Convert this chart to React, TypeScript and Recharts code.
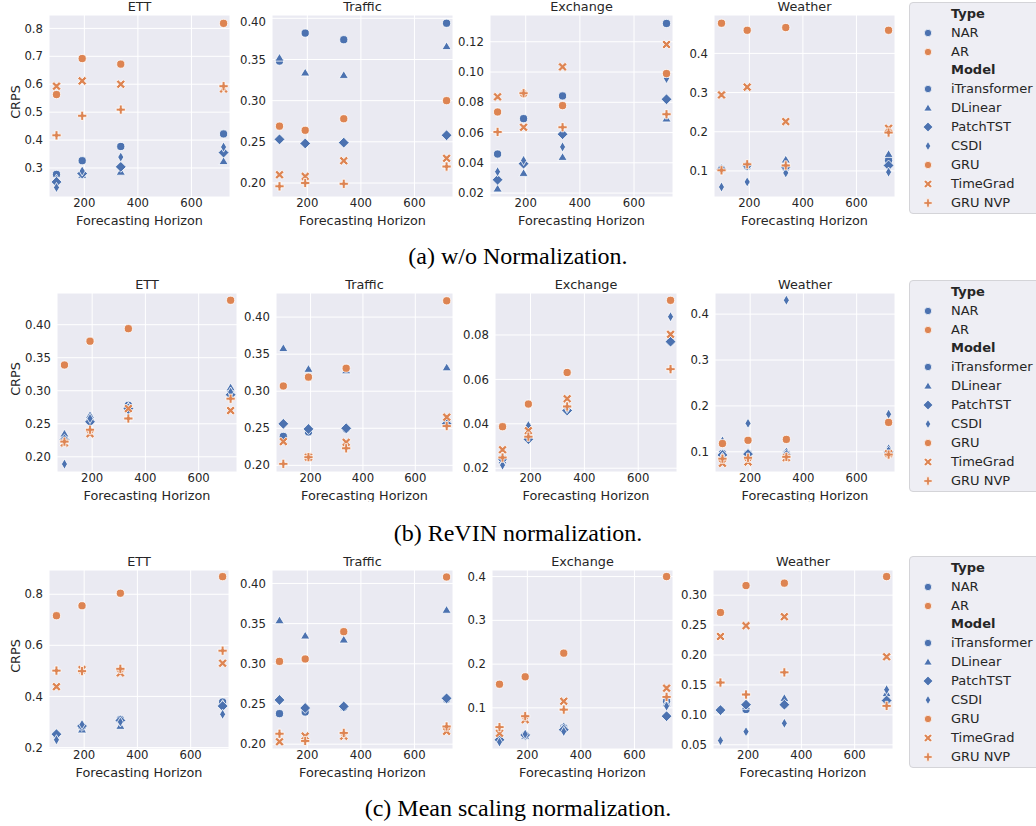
import React from 'react';
import { ScatterChart, Scatter, XAxis, YAxis, CartesianGrid } from 'recharts';

const horizons = [96, 192, 336, 720];
const models = ['iTransformer', 'DLinear', 'PatchTST', 'CSDI', 'GRU', 'TimeGrad', 'GRU NVP'];
const modelTypes = ['NAR', 'NAR', 'NAR', 'NAR', 'AR', 'AR', 'AR'];
const modelMarkers = ['circle', 'triangle', 'diamond', 'thin', 'circle', 'x', 'plus'];
const datasets = ['ETT', 'Traffic', 'Exchange', 'Weather'];
const xTicks = [200, 400, 600];

// CRPS per model (rows follow `models`) and horizon (columns follow `horizons`)
// (a) w/o normalization
const ettNone = [
  [0.277, 0.326, 0.377, 0.422],
  [0.262, 0.275, 0.286, 0.324],
  [0.25, 0.28, 0.304, 0.355],
  [0.23, 0.289, 0.339, 0.375],
  [0.563, 0.692, 0.672, 0.818],
  [0.593, 0.612, 0.6, 0.583],
  [0.417, 0.487, 0.509, 0.593],
];
const trafficNone = [
  [0.348, 0.382, 0.374, 0.394],
  [0.352, 0.334, 0.331, 0.366],
  [0.253, 0.248, 0.249, 0.258],
  null,
  [0.269, 0.264, 0.278, 0.3],
  [0.21, 0.208, 0.227, 0.23],
  [0.196, 0.2, 0.199, 0.22],
];
const exchangeNone = [
  [0.0458, 0.0692, 0.0842, 0.1321],
  [0.0229, 0.0332, 0.0438, 0.0692],
  [0.0288, 0.0394, 0.0589, 0.082],
  [0.0341, 0.0416, 0.0505, 0.0957],
  [0.0736, 0.0856, 0.0778, 0.099],
  [0.0836, 0.0635, 0.1034, 0.1182],
  [0.0604, 0.086, 0.0635, 0.0721],
];
const weatherNone = [
  [0.105, 0.112, 0.108, 0.127],
  [0.108, 0.119, 0.129, 0.143],
  [0.104, 0.114, 0.11, 0.114],
  [0.059, 0.072, 0.095, 0.097],
  [0.477, 0.459, 0.466, 0.459],
  [0.294, 0.314, 0.226, 0.209],
  [0.1017, 0.117, 0.114, 0.198],
];

// (b) ReVIN normalization
const ettRevin = [
  [0.228, 0.255, 0.278, 0.296],
  [0.235, 0.263, 0.276, 0.305],
  [0.226, 0.253, 0.273, 0.294],
  [0.189, 0.258, 0.27, 0.298],
  [0.339, 0.375, 0.394, 0.437],
  [0.221, 0.235, 0.273, 0.27],
  [0.223, 0.241, 0.258, 0.288],
];
const trafficRevin = [
  [0.239, 0.245, 0.249, 0.257],
  [0.358, 0.33, 0.328, 0.332],
  [0.256, 0.249, 0.25, 0.256],
  null,
  [0.307, 0.319, 0.331, 0.422],
  [0.232, 0.211, 0.231, 0.265],
  [0.202, 0.211, 0.223, 0.253],
];
const exchangeRevin = [
  [0.0245, 0.0335, 0.0462, 0.077],
  [0.0235, 0.034, 0.0465, 0.0775],
  [0.0241, 0.0331, 0.046, 0.077],
  [0.0214, 0.0392, 0.047, 0.0882],
  [0.0387, 0.0489, 0.0631, 0.0956],
  [0.0283, 0.0369, 0.0513, 0.0803],
  [0.0248, 0.0342, 0.0478, 0.0646],
];
const weatherRevin = [
  [0.096, 0.096, 0.096, 0.1],
  [0.125, 0.1, 0.101, 0.108],
  [0.093, 0.095, 0.093, 0.1],
  [0.088, 0.162, 0.4303, 0.182],
  [0.118, 0.125, 0.127, 0.164],
  [0.075, 0.078, 0.087, 0.096],
  [0.085, 0.087, 0.089, 0.094],
];

// (c) mean scaling normalization
const ettMean = [
  [0.25, 0.28, 0.31, 0.378],
  [0.258, 0.27, 0.284, 0.37],
  [0.252, 0.284, 0.306, 0.362],
  [0.23, 0.29, 0.3, 0.33],
  [0.716, 0.755, 0.804, 0.869],
  [0.438, 0.505, 0.492, 0.53],
  [0.501, 0.499, 0.508, 0.579],
];
const trafficMean = [
  [0.238, 0.24, 0.246, 0.256],
  [0.354, 0.335, 0.33, 0.367],
  [0.255, 0.245, 0.247, 0.257],
  null,
  [0.303, 0.306, 0.34, 0.408],
  [0.203, 0.21, 0.21, 0.216],
  [0.213, 0.204, 0.214, 0.222],
];
const exchangeMean = [
  [0.03, 0.038, 0.055, 0.115],
  [0.031, 0.036, 0.058, 0.11],
  [0.027, 0.038, 0.05, 0.081],
  [0.022, 0.04, 0.046, 0.104],
  [0.154, 0.171, 0.225, 0.4],
  [0.042, 0.073, 0.115, 0.145],
  [0.056, 0.081, 0.096, 0.125],
];
const weatherMean = [
  [0.108, 0.109, 0.117, 0.124],
  [0.108, 0.115, 0.128, 0.136],
  [0.108, 0.117, 0.117, 0.124],
  [0.057, 0.072, 0.086, 0.142],
  [0.271, 0.316, 0.32, 0.331],
  [0.231, 0.249, 0.264, 0.197],
  [0.154, 0.134, 0.171, 0.115],
];

// y tick labels
const ticksEttNone = [0.3, 0.4, 0.5, 0.6, 0.7, 0.8];
const ticksTrafficNone = [0.2, 0.25, 0.3, 0.35, 0.4];
const ticksExchangeNone = [0.02, 0.04, 0.06, 0.08, 0.1, 0.12];
const ticksWeatherNone = [0.1, 0.2, 0.3, 0.4];
const ticksEttRevin = [0.2, 0.25, 0.3, 0.35, 0.4];
const ticksTrafficRevin = [0.2, 0.25, 0.3, 0.35, 0.4];
const ticksExchangeRevin = [0.02, 0.04, 0.06, 0.08];
const ticksWeatherRevin = [0.1, 0.2, 0.3, 0.4];
const ticksEttMean = [0.2, 0.4, 0.6, 0.8];
const ticksTrafficMean = [0.2, 0.25, 0.3, 0.35, 0.4];
const ticksExchangeMean = [0.1, 0.2, 0.3, 0.4];
const ticksWeatherMean = [0.05, 0.1, 0.15, 0.2, 0.25, 0.3];

const BLUE = '#4C72B0';
const ORANGE = '#DD8452';
const TEXT = '#262626';
const SANS = '"DejaVu Sans", Verdana, sans-serif';
const TICK_FS = 11.7;
const LABEL_FS = 12.8;
const X_DOMAIN = [68, 744];
const Y_AXIS_W = 44;

const rows = [
  {
    caption: '(a) w/o Normalization.',
    top: 15, bottom: 197, legendTop: 2, captionY: 256,
    panels: [
      { data: ettNone, ticks: ticksEttNone, digits: 1, domain: [0.196, 0.848], left: 49, right: 230 },
      { data: trafficNone, ticks: ticksTrafficNone, digits: 2, domain: [0.183, 0.404], left: 272, right: 453 },
      { data: exchangeNone, ticks: ticksExchangeNone, digits: 2, domain: [0.0174, 0.1377], left: 490, right: 673 },
      { data: weatherNone, ticks: ticksWeatherNone, digits: 1, domain: [0.0335, 0.498], left: 714, right: 895 },
    ],
  },
  {
    caption: '(b) ReVIN normalization.',
    top: 293, bottom: 472, legendTop: 280, captionY: 533,
    panels: [
      { data: ettRevin, ticks: ticksEttRevin, digits: 2, domain: [0.177, 0.448], left: 57, right: 237 },
      { data: trafficRevin, ticks: ticksTrafficRevin, digits: 2, domain: [0.191, 0.4325], left: 276, right: 453 },
      { data: exchangeRevin, ticks: ticksExchangeRevin, digits: 2, domain: [0.0183, 0.0989], left: 495, right: 677 },
      { data: weatherRevin, ticks: ticksWeatherRevin, digits: 1, domain: [0.056, 0.446], left: 715, right: 895 },
    ],
  },
  {
    caption: '(c) Mean scaling normalization.',
    top: 570, bottom: 749, legendTop: 556, captionY: 808,
    panels: [
      { data: ettMean, ticks: ticksEttMean, digits: 1, domain: [0.194, 0.895], left: 49, right: 229 },
      { data: trafficMean, ticks: ticksTrafficMean, digits: 2, domain: [0.194, 0.4167], left: 272, right: 453 },
      { data: exchangeMean, ticks: ticksExchangeMean, digits: 1, domain: [0.006, 0.415], left: 492, right: 673 },
      { data: weatherMean, ticks: ticksWeatherMean, digits: 2, domain: [0.043, 0.342], left: 713, right: 893 },
    ],
  },
];

function Marker({ kind, cx, cy, color, s = 1 }: any) {
  const stroke = '#FFFFFF';
  const sw = 0.8 * s;
  if (cx == null || cy == null) return null;
  if (kind === 'circle') {
    return <circle cx={cx} cy={cy} r={4.1 * s} fill={color} stroke={stroke} strokeWidth={sw} />;
  }
  let pts: number[][] = [];
  if (kind === 'triangle') {
    const h = 4.4 * s;
    pts = [[0, -h], [h * 1.05, h * 0.75], [-h * 1.05, h * 0.75]];
  } else if (kind === 'diamond') {
    const d = 5.4 * s;
    pts = [[0, -d], [d, 0], [0, d], [-d, 0]];
  } else if (kind === 'thin') {
    const w = 3 * s;
    const h = 5.1 * s;
    pts = [[0, -h], [w, 0], [0, h], [-w, 0]];
  } else {
    const a = (kind === 'plus' ? 4.6 : 5) * s;
    const t = 1.45 * s;
    const base = [[-t, -a], [t, -a], [t, -t], [a, -t], [a, t], [t, t], [t, a], [-t, a], [-t, t], [-a, t], [-a, -t], [-t, -t]];
    if (kind === 'x') {
      const c = Math.SQRT1_2;
      pts = base.map(([x, y]) => [c * (x - y), c * (x + y)]);
    } else {
      pts = base;
    }
  }
  const str = pts.map(([x, y]) => `${cx + x},${cy + y}`).join(' ');
  return <polygon points={str} fill={color} stroke={stroke} strokeWidth={sw} strokeLinejoin="miter" />;
}

function Panel({ row, panel, name, showYLabel }: any) {
  const w = panel.right - panel.left;
  const h = row.bottom - row.top;
  return (
    <>
      <div
        style={{
          position: 'absolute', left: panel.left, top: row.top - 15, width: w, height: 14,
          lineHeight: '14px', textAlign: 'center', fontFamily: SANS, fontSize: LABEL_FS, color: TEXT,
        }}
      >
        {name}
      </div>
      {showYLabel && (
        <div
          style={{
            position: 'absolute', left: 16 - 30, top: (row.top + row.bottom) / 2 - 7 - 4, width: 60, height: 14,
            lineHeight: '14px', textAlign: 'center', fontFamily: SANS, fontSize: LABEL_FS, color: TEXT,
            transform: 'rotate(-90deg)',
          }}
        >
          CRPS
        </div>
      )}
      <div style={{ position: 'absolute', left: panel.left - Y_AXIS_W, top: row.top }}>
        <ScatterChart width={w + Y_AXIS_W + 2} height={h + 30} margin={{ top: 0, right: 2, bottom: 0, left: 0 }}>
          <CartesianGrid fill="#EAEAF2" fillOpacity={1} stroke="#FFFFFF" strokeWidth={1} />
          <XAxis
            type="number"
            dataKey="x"
            domain={X_DOMAIN}
            ticks={xTicks}
            allowDataOverflow
            axisLine={false}
            tickLine={false}
            tickSize={0}
            tickMargin={2}
            height={30}
            tick={{ fill: TEXT, fontSize: TICK_FS, fontFamily: SANS }}
            label={{ value: 'Forecasting Horizon', position: 'insideBottom', offset: 2, fill: TEXT, fontSize: LABEL_FS, fontFamily: SANS }}
          />
          <YAxis
            type="number"
            dataKey="y"
            domain={panel.domain}
            ticks={panel.ticks}
            allowDataOverflow
            axisLine={false}
            tickLine={false}
            tickSize={0}
            tickMargin={6}
            width={Y_AXIS_W}
            tick={{ fill: TEXT, fontSize: TICK_FS, fontFamily: SANS }}
            tickFormatter={(v: number) => v.toFixed(panel.digits)}
          />
          {models.map((m, i) => {
            const vals = panel.data[i];
            if (!vals) return null;
            const pts = horizons.map((hz, j) => ({ x: hz, y: vals[j] }));
            const color = modelTypes[i] === 'NAR' ? BLUE : ORANGE;
            const kind = modelMarkers[i];
            return (
              <Scatter
                key={m}
                name={m}
                data={pts}
                isAnimationActive={false}
                shape={(p: any) => <Marker kind={kind} cx={p.cx} cy={p.cy} color={color} />}
              />
            );
          })}
        </ScatterChart>
      </div>
    </>
  );
}

function LegendBox({ top }: { top: number }) {
  const entries: any[] = [
    { label: 'Type', title: true },
    { label: 'NAR', kind: 'circle', color: BLUE },
    { label: 'AR', kind: 'circle', color: ORANGE },
    { label: 'Model', title: true },
    ...models.map((m, i) => ({ label: m, kind: modelMarkers[i], color: modelTypes[i] === 'NAR' ? BLUE : ORANGE })),
  ];
  return (
    <div
      style={{
        position: 'absolute', left: 909, top, width: 140, height: 212, boxSizing: 'border-box',
        background: '#EEEEF4', border: '1px solid #D4D4D8', borderRadius: 4,
      }}
    >
      {entries.map((e, i) => (
        <div key={e.label} style={{ position: 'absolute', left: 0, top: 10.7 + i * 18.9 - 9, height: 18, width: 140 }}>
          {!e.title && (
            <svg width={20} height={18} style={{ position: 'absolute', left: 8, top: 0 }}>
              <Marker kind={e.kind} cx={10} cy={9} color={e.color} s={0.9} />
            </svg>
          )}
          <span
            style={{
              position: 'absolute', left: 41, top: 0, lineHeight: '18px', whiteSpace: 'nowrap',
              fontFamily: SANS, fontSize: 13, color: TEXT, fontWeight: e.title ? 'bold' : 'normal',
            }}
          >
            {e.label}
          </span>
        </div>
      ))}
    </div>
  );
}

export default function App() {
  return (
    <div style={{ position: 'relative', width: 1036, height: 826, overflow: 'hidden', background: '#FFFFFF' }}>
      <style>{'body{margin:0}'}</style>
      {rows.map((row, r) => (
        <React.Fragment key={r}>
          {row.panels.map((panel, k) => (
            <Panel key={k} row={row} panel={panel} name={datasets[k]} showYLabel={k === 0} />
          ))}
          <LegendBox top={row.legendTop} />
          <div
            style={{
              position: 'absolute', left: 0, width: 1036, top: row.captionY - 14, height: 28, lineHeight: '28px',
              textAlign: 'center', fontFamily: '"Liberation Serif", "Times New Roman", serif', fontSize: 24, color: '#000',
            }}
          >
            {row.caption}
          </div>
        </React.Fragment>
      ))}
    </div>
  );
}
